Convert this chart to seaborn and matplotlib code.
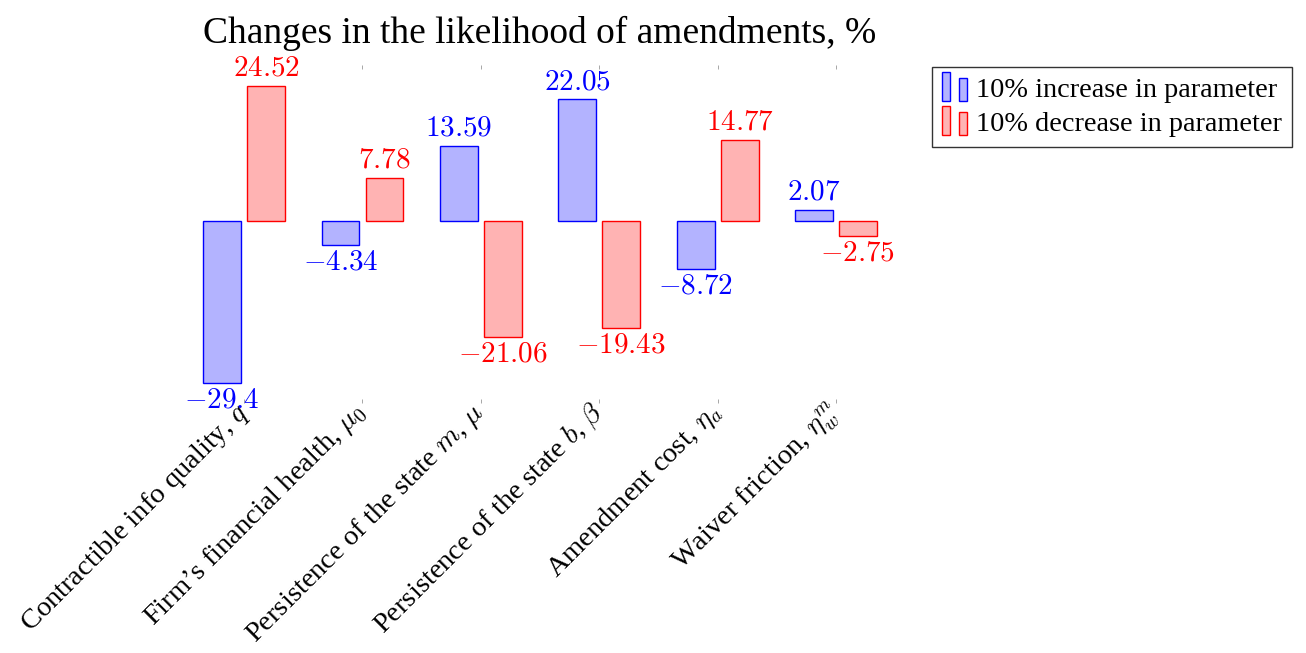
import numpy as np
import pandas as pd
import matplotlib
matplotlib.use("Agg")
import matplotlib.pyplot as plt
import seaborn as sns
from matplotlib.patches import Rectangle
from matplotlib.legend_handler import HandlerBase

# data
params = [
    "Contractible info quality, $q$",
    "Firm\u2019s financial health, $\\mu_0$",
    "Persistence of the state $m$, $\\mu$",
    "Persistence of the state $b$, $\\beta$",
    "Amendment cost, $\\eta_a$",
    "Waiver friction, $\\eta_w^m$",
]
increase = [-29.4, -4.34, 13.59, 22.05, -8.72, 2.07]
decrease = [24.52, 7.78, -21.06, -19.43, 14.77, -2.75]
series_names = ["10% increase in parameter", "10% decrease in parameter"]

fills = ["#b3b3ff", "#ffb3b3"]
edges = ["#0000ff", "#ff0000"]

sns.set_style("white")
plt.rcParams["font.family"] = ["Liberation Serif", "DejaVu Serif"]
plt.rcParams["mathtext.fontset"] = "cm"
plt.rcParams["text.color"] = "black"
plt.rcParams["xtick.labelcolor"] = "black"

df = pd.DataFrame({
    "param": params * 2,
    "value": increase + decrease,
    "series": [series_names[0]] * len(params) + [series_names[1]] * len(params),
})

fig = plt.figure(figsize=(13.06, 6.53), dpi=100)
ax = fig.add_axes([0.1325, 0.3828, 0.562, 0.5177])

sns.barplot(data=df, x="param", y="value", hue="series", palette=fills,
            width=0.744, gap=0.14, saturation=1, legend=False, ax=ax)

for cont, ec, vals in zip(ax.containers, edges, [increase, decrease]):
    for bar in cont:
        bar.set_edgecolor(ec)
        bar.set_linewidth(1.0)
    ax.bar_label(cont, labels=[f"${v:g}$" for v in vals], padding=3,
                 color=ec, fontsize=21)

ax.set_xlim(-0.6, 5.6)
ax.set_ylim(-33.0, 28.3)
ax.set_xlabel("")
ax.set_ylabel("")
ax.set_yticks([])
for s in ax.spines.values():
    s.set_visible(False)

ax.set_xticks(range(len(params)))
ax.set_xticklabels(params, rotation=45, ha="right", va="center",
                   rotation_mode="anchor", fontsize=20.5)
ax.tick_params(axis="x", which="both", top=True, bottom=True, direction="in",
               length=3, width=0.6, color="#999999", pad=4)

ax.set_title("Changes in the likelihood of amendments, %", fontsize=27, pad=16,
             color="black")


class TwoBars(HandlerBase):
    # pgfplots-style ybar legend: two small bars, the second one shorter
    def create_artists(self, legend, orig_handle, xdescent, ydescent,
                       width, height, fontsize, trans):
        fc = orig_handle.get_facecolor()
        ec = orig_handle.get_edgecolor()
        bw = width * 0.29
        y0 = -ydescent - height * 0.2
        h = height * 1.45
        r1 = Rectangle((-xdescent, y0), bw, h, facecolor=fc, edgecolor=ec,
                       lw=1.0, transform=trans)
        r2 = Rectangle((-xdescent + width * 0.67, y0), bw, h * 0.8,
                       facecolor=fc, edgecolor=ec, lw=1.0, transform=trans)
        return [r1, r2]


handles = [Rectangle((0, 0), 1, 1, facecolor=f, edgecolor=e) for f, e in zip(fills, edges)]
leg = fig.legend(handles, series_names, loc="upper left",
                 bbox_to_anchor=(0.714, 0.897), fontsize=20.3,
                 handler_map={Rectangle: TwoBars()}, handlelength=0.9,
                 handletextpad=0.3, borderpad=0.35, labelspacing=0.3,
                 frameon=True, fancybox=False, borderaxespad=0)
leg.get_frame().set_edgecolor("black")
leg.get_frame().set_linewidth(1.0)

fig.savefig("out.png", dpi=100)
